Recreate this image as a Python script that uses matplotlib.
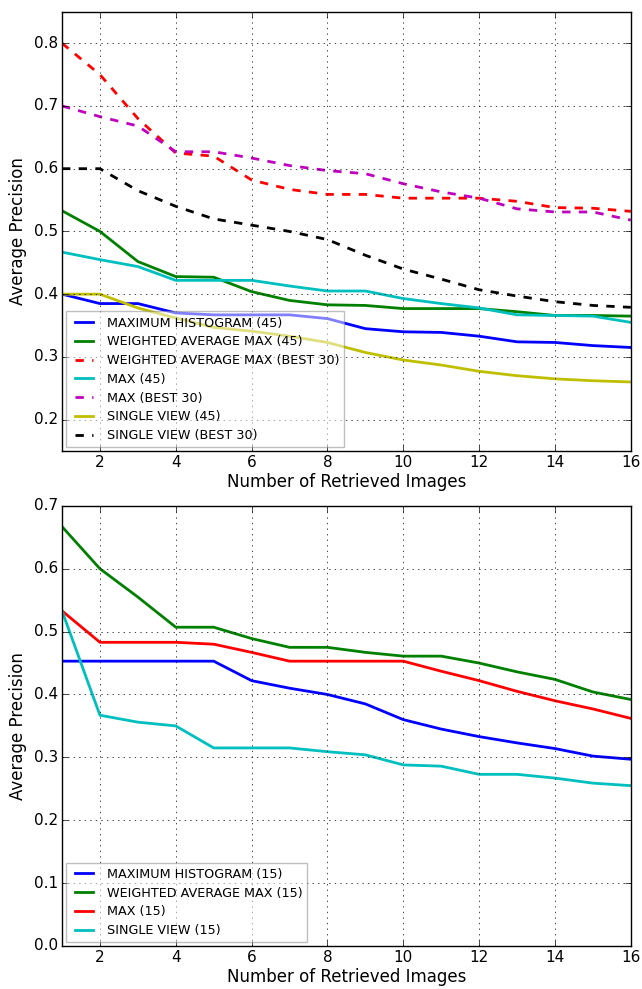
import numpy as np
import matplotlib
matplotlib.use('Agg')
import matplotlib.pyplot as plt

plt.style.use('classic')
plt.rcParams['figure.facecolor'] = 'white'
plt.rcParams['savefig.facecolor'] = 'white'
plt.rcParams['font.family'] = ['DejaVu Sans']
plt.rcParams['xtick.labelsize'] = 11
plt.rcParams['ytick.labelsize'] = 11
plt.rcParams['xtick.major.pad'] = 3
plt.rcParams['ytick.major.pad'] = 3

# DATA
n_images = np.arange(1, 17)

# top chart (45 / best 30)
max_hist_45 = [0.400, 0.385, 0.385, 0.370, 0.367, 0.367, 0.367, 0.361,
               0.345, 0.340, 0.339, 0.333, 0.324, 0.323, 0.318, 0.315]
wavg_max_45 = [0.533, 0.500, 0.452, 0.428, 0.427, 0.404, 0.390, 0.383,
               0.382, 0.377, 0.377, 0.377, 0.372, 0.366, 0.366, 0.365]
wavg_max_b30 = [0.800, 0.750, 0.680, 0.625, 0.620, 0.582, 0.567, 0.559,
                0.559, 0.553, 0.553, 0.553, 0.548, 0.538, 0.537, 0.532]
max_45 = [0.467, 0.455, 0.444, 0.422, 0.422, 0.422, 0.413, 0.405,
          0.405, 0.393, 0.385, 0.378, 0.367, 0.366, 0.365, 0.355]
max_b30 = [0.700, 0.683, 0.668, 0.627, 0.627, 0.617, 0.605, 0.597,
           0.592, 0.576, 0.563, 0.553, 0.536, 0.531, 0.531, 0.518]
single_45 = [0.400, 0.400, 0.378, 0.362, 0.347, 0.341, 0.333, 0.323,
             0.307, 0.295, 0.287, 0.277, 0.270, 0.265, 0.262, 0.260]
single_b30 = [0.600, 0.600, 0.565, 0.540, 0.520, 0.510, 0.500, 0.487,
              0.462, 0.440, 0.424, 0.407, 0.397, 0.388, 0.382, 0.379]

# bottom chart (15)
max_hist_15 = [0.453, 0.453, 0.453, 0.453, 0.453, 0.422, 0.410, 0.400,
               0.385, 0.360, 0.345, 0.333, 0.323, 0.314, 0.302, 0.297]
wavg_max_15 = [0.667, 0.600, 0.555, 0.507, 0.507, 0.489, 0.475, 0.475,
               0.467, 0.461, 0.461, 0.450, 0.436, 0.424, 0.404, 0.392]
max_15 = [0.533, 0.483, 0.483, 0.483, 0.480, 0.467, 0.453, 0.453,
          0.453, 0.453, 0.437, 0.422, 0.405, 0.390, 0.377, 0.362]
single_15 = [0.533, 0.367, 0.356, 0.350, 0.315, 0.315, 0.315, 0.309,
             0.304, 0.288, 0.286, 0.273, 0.273, 0.267, 0.259, 0.255]

fig = plt.figure(figsize=(6.42, 9.89), dpi=100)
ax1 = fig.add_axes([0.0966, 0.544, 0.886, 0.444])
ax2 = fig.add_axes([0.0966, 0.0435, 0.886, 0.445])

# top
ax1.plot(n_images, max_hist_45, 'b-', lw=2, label='MAXIMUM HISTOGRAM (45)')
ax1.plot(n_images, wavg_max_45, 'g-', lw=2, label='WEIGHTED AVERAGE MAX (45)')
ax1.plot(n_images, wavg_max_b30, 'r--', lw=2, label='WEIGHTED AVERAGE MAX (BEST 30)')
ax1.plot(n_images, max_45, 'c-', lw=2, label='MAX (45)')
ax1.plot(n_images, max_b30, 'm--', lw=2, label='MAX (BEST 30)')
ax1.plot(n_images, single_45, 'y-', lw=2, label='SINGLE VIEW (45)')
ax1.plot(n_images, single_b30, 'k--', lw=2, label='SINGLE VIEW (BEST 30)')
ax1.set_xlim(1, 16)
ax1.set_ylim(0.15, 0.85)
ax1.set_xticks(np.arange(2, 17, 2))
ax1.set_yticks(np.arange(0.2, 0.81, 0.1))
ax1.grid(True)
ax1.set_xlabel('Number of Retrieved Images', labelpad=2)
ax1.set_ylabel('Average Precision')
leg1 = ax1.legend(loc='lower left', fontsize=9.2, framealpha=0.5,
                  borderaxespad=0.3, labelspacing=0.45)
leg1.get_frame().set_edgecolor('gray')

# bottom
ax2.plot(n_images, max_hist_15, 'b-', lw=2, label='MAXIMUM HISTOGRAM (15)')
ax2.plot(n_images, wavg_max_15, 'g-', lw=2, label='WEIGHTED AVERAGE MAX (15)')
ax2.plot(n_images, max_15, 'r-', lw=2, label='MAX (15)')
ax2.plot(n_images, single_15, 'c-', lw=2, label='SINGLE VIEW (15)')
ax2.set_xlim(1, 16)
ax2.set_ylim(0.0, 0.7)
ax2.set_xticks(np.arange(2, 17, 2))
ax2.set_yticks(np.arange(0.0, 0.71, 0.1))
ax2.grid(True)
ax2.set_xlabel('Number of Retrieved Images', labelpad=2)
ax2.set_ylabel('Average Precision')
leg2 = ax2.legend(loc='lower left', fontsize=9.2, framealpha=0.5,
                  borderaxespad=0.3, labelspacing=0.45)
leg2.get_frame().set_edgecolor('gray')

fig.savefig('out.png', dpi=100)
